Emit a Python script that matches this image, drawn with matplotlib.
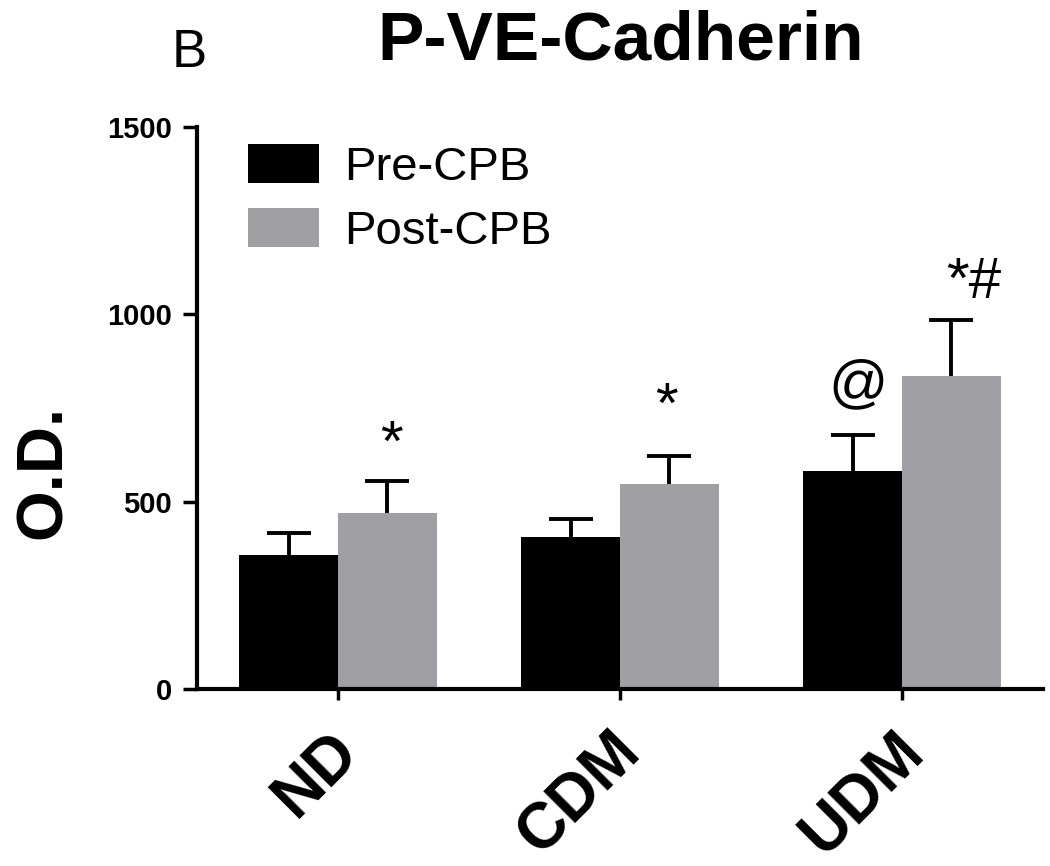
import matplotlib
matplotlib.use('Agg')

import numpy as np
from matplotlib import pyplot
from matplotlib.patches import Patch
from matplotlib.transforms import ScaledTranslation

groups = ['ND', 'CDM', 'UDM']
series = ['Pre-CPB', 'Post-CPB']
pre_vals = [358, 405, 582]
pre_err = [59, 49, 96]
post_vals = [469, 547, 836]
post_err = [87, 75, 148]
pre_marks = ['', '', '@']
post_marks = ['*', '*', '*#']
yticks = [0, 500, 1000, 1500]

# where each significance mark sits relative to its error cap (points)
pre_mark_off = [(0, 0), (0, 0), (4, 25)]
post_mark_off = [(3, 14), (-2, 24), (16, 16)]

pyplot.rcParams['font.family'] = ['Liberation Sans', 'DejaVu Sans']

black = '#000000'
grey = '#a0a0a4'

fig = pyplot.figure()
fig.set_size_inches(10.5, 8.66)
ax = fig.add_axes([0.1876, 0.2044, 0.8057, 0.6489])

x = np.arange(len(groups))
w = 0.35


def bars(xs, vals, err, color):
    ax.bar(xs, vals, w, color=color, zorder=2)
    eb = ax.errorbar(xs, vals, yerr=[np.zeros(len(vals)), err], fmt='none',
                     ecolor=black, elinewidth=2.8, capsize=16, capthick=2.8,
                     zorder=1)
    # only the upper cap is drawn
    eb.lines[1][0].set_visible(False)


bars(x - w/2, pre_vals, pre_err, black)
bars(x + w/2, post_vals, post_err, grey)

for i in range(len(groups)):
    if pre_marks[i]:
        ax.annotate(pre_marks[i], (x[i] - w/2, pre_vals[i] + pre_err[i]),
                    xytext=pre_mark_off[i], textcoords='offset points',
                    ha='center', va='baseline', fontsize=42)
    if post_marks[i]:
        ax.annotate(post_marks[i], (x[i] + w/2, post_vals[i] + post_err[i]),
                    xytext=post_mark_off[i], textcoords='offset points',
                    ha='center', va='baseline', fontsize=42)

ax.set_xlim(-0.5, 2.5)
ax.set_ylim(0, 1500)

for s in ['top', 'right']:
    ax.spines[s].set_visible(False)
ax.spines['left'].set_linewidth(3)
ax.spines['bottom'].set_linewidth(3)

ax.set_yticks(yticks)
ax.set_yticklabels([str(v) for v in yticks], fontsize=21, fontweight='bold')
ax.tick_params(axis='y', length=10, width=2.5, pad=8)
ax.set_xticks(x)
ax.set_xticklabels(groups, fontsize=46, fontweight='bold', rotation=45,
                   ha='right', va='center', rotation_mode='anchor')
ax.tick_params(axis='x', length=8, width=2.5, pad=30)
shift = ScaledTranslation(8/72, 0, fig.dpi_scale_trans)
for lab in ax.get_xticklabels():
    lab.set_transform(lab.get_transform() + shift)

handles = [Patch(facecolor=black), Patch(facecolor=grey)]
ax.legend(handles, series, loc='upper left', bbox_to_anchor=(0.06, 0.97),
          frameon=False, fontsize=34, handlelength=1.5, handleheight=0.9,
          handletextpad=0.55, labelspacing=0.38, borderpad=0, borderaxespad=0)

fig.text(621/1050, 1 - 41/866, 'P-VE-Cadherin', fontsize=50, fontweight='bold',
         ha='center', va='center')
fig.text(189/1050, 1 - 53/866, 'B', fontsize=38, ha='center', va='center')
fig.text(44/1050, 1 - 472/866, 'O.D.', fontsize=47, fontweight='bold',
         rotation=90, ha='center', va='center')

pyplot.savefig('out.png', dpi=100)
